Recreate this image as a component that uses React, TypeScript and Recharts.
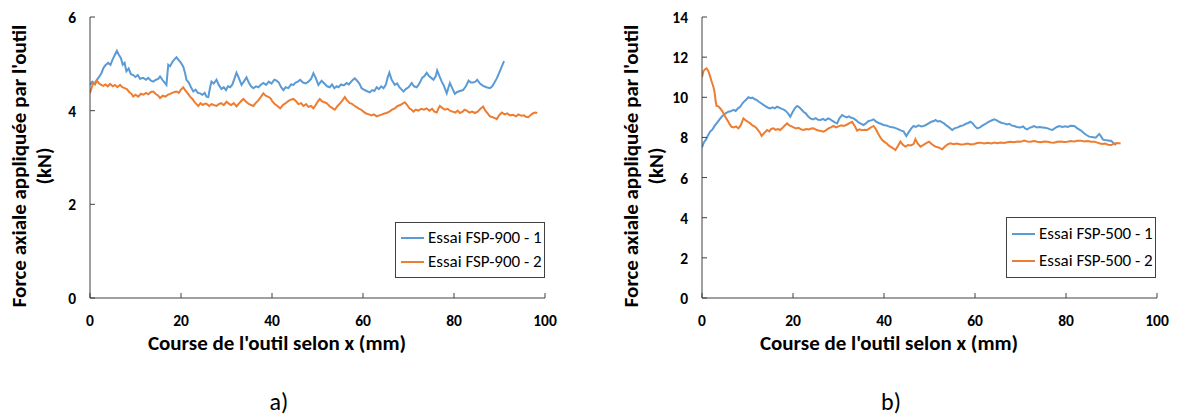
import React from "react";
import { LineChart, Line, XAxis, YAxis } from "recharts";

// Essai FSP-900 (panel a) : [course x (mm), force (kN)]
const fsp900Essai1: [number, number][] = [
  [0, 4.55], [0.5, 4.62], [1, 4.58], [1.5, 4.66], [2, 4.72], [2.5, 4.8], [3, 4.92], [3.5, 4.98],
  [4, 5.02], [4.5, 4.98], [5, 5.1], [5.5, 5.2], [5.9, 5.28], [6.3, 5.2], [6.8, 5.12], [7.2, 4.98],
  [7.6, 5.02], [8, 4.84], [8.5, 4.9], [9, 4.78], [9.5, 4.76], [10, 4.72], [10.5, 4.76], [11, 4.68],
  [11.7, 4.7], [12.3, 4.66], [12.8, 4.7], [13.4, 4.64], [13.9, 4.62], [14.5, 4.66], [15, 4.68],
  [15.4, 4.73], [15.9, 4.66], [16.4, 4.6], [16.8, 4.55], [17.2, 4.98], [17.6, 4.95], [18.1, 5.04],
  [18.6, 5.1], [19, 5.14], [19.5, 5.08], [20, 5.02], [20.5, 4.94], [20.9, 4.8], [21.2, 4.66],
  [21.7, 4.6], [22.2, 4.5], [22.7, 4.41], [23.2, 4.45], [23.7, 4.38], [24.2, 4.37], [24.7, 4.34],
  [25.2, 4.38], [25.6, 4.3], [26, 4.29], [26.4, 4.5], [26.7, 4.62], [27.2, 4.58], [27.8, 4.66],
  [28.3, 4.55], [28.9, 4.46], [29.4, 4.5], [29.9, 4.44], [30.3, 4.52], [30.8, 4.5], [31.3, 4.56],
  [31.8, 4.7], [32.2, 4.81], [32.7, 4.7], [33.3, 4.55], [33.8, 4.62], [34.4, 4.71], [34.9, 4.6],
  [35.4, 4.52], [35.9, 4.48], [36.5, 4.52], [37, 4.5], [37.6, 4.56], [38.1, 4.59], [38.7, 4.55],
  [39.3, 4.62], [39.9, 4.58], [40.5, 4.66], [41, 4.64], [41.5, 4.6], [42, 4.5], [42.5, 4.44],
  [43, 4.5], [43.6, 4.48], [44.2, 4.56], [44.7, 4.55], [45.2, 4.6], [45.7, 4.62], [46.2, 4.66],
  [46.8, 4.6], [47.4, 4.58], [48, 4.62], [48.6, 4.68], [49.1, 4.8], [49.6, 4.7], [50.2, 4.55],
  [50.9, 4.64], [51.5, 4.58], [52.1, 4.52], [52.7, 4.5], [53.2, 4.56], [53.7, 4.48], [54.2, 4.52],
  [54.6, 4.5], [55.2, 4.56], [55.8, 4.54], [56.4, 4.59], [56.9, 4.56], [57.4, 4.62], [57.8, 4.66],
  [58.2, 4.69], [58.7, 4.64], [59.2, 4.58], [59.7, 4.48], [60.2, 4.45], [60.8, 4.42], [61.5, 4.39],
  [62, 4.44], [62.5, 4.42], [63, 4.5], [63.5, 4.46], [64, 4.52], [64.5, 4.48], [65, 4.55],
  [65.4, 4.7], [65.8, 4.81], [66.3, 4.66], [67, 4.55], [67.5, 4.58], [68, 4.5], [68.5, 4.45],
  [68.9, 4.41], [69.4, 4.46], [70, 4.5], [70.4, 4.55], [70.7, 4.59], [71.2, 4.52], [71.8, 4.5],
  [72.2, 4.55], [72.5, 4.6], [73, 4.7], [73.5, 4.74], [74, 4.81], [74.5, 4.74], [75, 4.7],
  [75.5, 4.66], [76, 4.74], [76.3, 4.86], [76.8, 4.74], [77.3, 4.62], [77.7, 4.55], [78.1, 4.45],
  [78.4, 4.37], [78.8, 4.5], [79.1, 4.59], [79.6, 4.48], [80.2, 4.36], [80.7, 4.4], [81.3, 4.42],
  [82, 4.44], [82.6, 4.52], [83.2, 4.64], [83.7, 4.6], [84.2, 4.6], [84.7, 4.62], [85.1, 4.66],
  [85.7, 4.58], [86.4, 4.53], [87.1, 4.5], [87.9, 4.48], [88.4, 4.52], [88.9, 4.6], [89.4, 4.69],
  [89.9, 4.8], [90.4, 4.92], [91, 5.06],
];

const fsp900Essai2: [number, number][] = [
  [0, 4.37], [0.4, 4.5], [0.7, 4.59], [1.1, 4.56], [1.5, 4.64], [2, 4.58], [2.5, 4.55], [2.9, 4.53],
  [3.4, 4.56], [3.9, 4.52], [4.4, 4.57], [5, 4.52], [5.5, 4.55], [6, 4.5], [6.6, 4.55], [7.1, 4.5],
  [7.6, 4.48], [8.1, 4.46], [8.6, 4.4], [9.1, 4.36], [9.5, 4.3], [10, 4.34], [10.6, 4.3], [11.2, 4.36],
  [11.7, 4.34], [12.3, 4.38], [12.8, 4.35], [13.4, 4.4], [13.9, 4.41], [14.4, 4.36], [15, 4.32],
  [15.4, 4.27], [16, 4.32], [16.6, 4.3], [17.1, 4.34], [17.6, 4.36], [18.1, 4.38], [18.6, 4.4],
  [19, 4.41], [19.5, 4.38], [20, 4.45], [20.5, 4.5], [20.9, 4.44], [21.4, 4.38], [22, 4.3],
  [22.5, 4.25], [23, 4.18], [23.4, 4.14], [23.8, 4.1], [24.3, 4.16], [24.8, 4.12], [25.2, 4.15],
  [25.6, 4.15], [26.2, 4.1], [26.7, 4.14], [27.2, 4.12], [27.8, 4.1], [28.3, 4.14], [28.8, 4.16],
  [29.4, 4.12], [30, 4.19], [30.5, 4.15], [31, 4.12], [31.6, 4.16], [32.2, 4.09], [32.7, 4.15],
  [33.2, 4.2], [33.7, 4.25], [34.2, 4.2], [34.8, 4.15], [35.4, 4.12], [35.9, 4.1], [36.4, 4.16],
  [37, 4.22], [37.6, 4.3], [38.1, 4.37], [38.6, 4.32], [39.1, 4.3], [39.6, 4.27], [40.1, 4.2],
  [40.6, 4.14], [41.2, 4.1], [41.8, 4.05], [42.4, 4.12], [43, 4.16], [43.5, 4.2], [44, 4.23],
  [44.7, 4.25], [45.3, 4.2], [45.8, 4.14], [46.4, 4.16], [46.9, 4.1], [47.5, 4.14], [48, 4.08],
  [48.6, 4.1], [49.1, 4.05], [49.6, 4.12], [50.1, 4.2], [50.5, 4.25], [51, 4.2], [51.5, 4.18],
  [52, 4.16], [52.6, 4.1], [53.2, 4.06], [53.8, 4.02], [54.4, 4.1], [55, 4.16], [55.5, 4.22],
  [56, 4.29], [56.5, 4.22], [57.1, 4.16], [57.5, 4.15], [57.9, 4.12], [58.5, 4.08], [59, 4.05],
  [59.6, 4.02], [60.1, 3.98], [60.7, 3.94], [61.3, 3.92], [61.9, 3.9], [62.4, 3.92], [63, 3.88],
  [63.6, 3.9], [64.2, 3.92], [64.7, 3.94], [65.2, 3.95], [65.8, 3.98], [66.4, 4.02], [67, 4.05],
  [67.6, 4.1], [68.2, 4.12], [68.7, 4.15], [69.2, 4.18], [69.7, 4.12], [70.2, 4.05], [70.7, 4.02],
  [71.1, 3.98], [71.6, 4.02], [72.2, 4.0], [72.8, 4.04], [73.4, 4.02], [74, 4.05], [74.6, 4.0],
  [75.2, 4.04], [75.7, 3.98], [76.2, 3.96], [76.6, 4.05], [76.9, 4.1], [77.4, 4.06], [78, 4.02],
  [78.6, 4.04], [79.1, 4.0], [79.7, 3.98], [80.3, 3.96], [80.8, 4.0], [81.3, 3.95], [81.9, 3.98],
  [82.3, 4.02], [82.8, 4.0], [83.4, 3.96], [84, 3.98], [84.6, 3.95], [85.2, 3.98], [85.8, 4.04],
  [86.4, 4.09], [86.9, 4.0], [87.4, 3.94], [87.9, 3.88], [88.5, 3.86], [89, 3.84], [89.4, 3.82],
  [89.9, 3.9], [90.5, 3.96], [91.1, 3.92], [91.7, 3.94], [92.3, 3.9], [93, 3.91], [93.6, 3.88],
  [94.2, 3.92], [94.8, 3.89], [95.4, 3.9], [95.8, 3.87], [96.3, 3.86], [96.8, 3.9], [97.3, 3.94],
  [97.8, 3.96], [98.3, 3.95],
];

// Essai FSP-500 (panel b)
const fsp500Essai1: [number, number][] = [
  [0, 7.5], [0.4, 7.75], [0.9, 7.9], [1.3, 8.1], [1.8, 8.29], [2.3, 8.4], [2.7, 8.55], [3.2, 8.7],
  [3.7, 8.85], [4.2, 9.0], [4.7, 9.12], [5.2, 9.2], [5.8, 9.28], [6.3, 9.3], [6.9, 9.37], [7.4, 9.32],
  [7.9, 9.45], [8.4, 9.53], [8.9, 9.7], [9.4, 9.82], [9.8, 9.9], [10.2, 10.0], [10.7, 9.95],
  [11.1, 9.98], [11.6, 9.9], [12, 9.87], [12.5, 9.78], [13, 9.7], [13.5, 9.62], [14, 9.55],
  [14.5, 9.48], [15, 9.45], [15.5, 9.5], [16, 9.45], [16.5, 9.53], [17, 9.48], [17.5, 9.42],
  [17.9, 9.4], [18.4, 9.32], [18.9, 9.2], [19.4, 9.03], [19.9, 9.25], [20.4, 9.45], [20.9, 9.57],
  [21.4, 9.5], [21.9, 9.38], [22.3, 9.28], [22.8, 9.2], [23.3, 9.05], [23.8, 8.95], [24.4, 8.9],
  [25, 8.96], [25.5, 8.88], [26, 8.87], [26.6, 8.92], [27.1, 8.85], [27.7, 8.95], [28.2, 8.9],
  [28.7, 8.82], [29.2, 8.75], [29.7, 8.7], [30.2, 8.95], [30.8, 9.12], [31.3, 9.05], [31.8, 9.0],
  [32.3, 9.05], [32.8, 8.98], [33.3, 8.95], [33.9, 8.85], [34.4, 8.75], [35, 8.68], [35.5, 8.62],
  [36, 8.7], [36.6, 8.82], [37.2, 8.85], [37.7, 8.9], [38.2, 8.8], [38.8, 8.72], [39.3, 8.68],
  [39.9, 8.62], [40.5, 8.6], [41, 8.55], [41.5, 8.52], [42.1, 8.5], [42.7, 8.45], [43.2, 8.4],
  [43.8, 8.34], [44.3, 8.3], [44.9, 8.07], [45.4, 8.25], [46, 8.45], [46.5, 8.57], [47, 8.52],
  [47.6, 8.6], [48.2, 8.55], [48.7, 8.57], [49.2, 8.62], [49.8, 8.7], [50.4, 8.78], [51, 8.82],
  [51.3, 8.87], [51.8, 8.8], [52.3, 8.82], [52.8, 8.75], [53.2, 8.7], [53.7, 8.6], [54.3, 8.5],
  [55, 8.37], [55.5, 8.45], [56.2, 8.5], [56.8, 8.57], [57.4, 8.6], [58, 8.68], [58.5, 8.72],
  [59, 8.78], [59.5, 8.7], [60, 8.55], [60.5, 8.45], [61.1, 8.5], [61.7, 8.6], [62.3, 8.67],
  [62.8, 8.75], [63.4, 8.82], [64.2, 8.9], [64.8, 8.85], [65.3, 8.78], [65.9, 8.72], [66.4, 8.7],
  [67, 8.65], [67.5, 8.68], [68, 8.6], [68.6, 8.57], [69.2, 8.52], [70, 8.5], [70.6, 8.55],
  [71, 8.45], [71.5, 8.4], [72, 8.48], [72.5, 8.52], [73, 8.57], [73.6, 8.5], [74.2, 8.52],
  [74.8, 8.5], [75.4, 8.48], [76, 8.45], [76.5, 8.4], [77, 8.37], [77.5, 8.45], [78, 8.52],
  [78.5, 8.57], [79.2, 8.52], [79.8, 8.55], [80.4, 8.52], [81, 8.58], [81.8, 8.57], [82.5, 8.45],
  [83.3, 8.34], [83.9, 8.22], [84.5, 8.12], [85.1, 8.04], [85.7, 8.02], [86.2, 8.0], [86.6, 8.0],
  [87, 8.1], [87.3, 8.17], [87.7, 8.05], [88.1, 7.9], [88.4, 7.87], [89, 7.86], [89.5, 7.84],
  [89.9, 7.84], [90.4, 7.72], [91, 7.62],
];

const fsp500Essai2: [number, number][] = [
  [0, 11.0], [0.3, 11.3], [0.7, 11.4], [1.0, 11.44], [1.4, 11.3], [1.8, 11.03], [2.1, 10.8],
  [2.5, 10.53], [2.8, 10.2], [3.0, 9.8], [3.2, 9.57], [3.6, 9.55], [4.0, 9.45], [4.5, 9.3],
  [5.1, 9.03], [5.6, 8.85], [6.1, 8.65], [6.5, 8.53], [7, 8.5], [7.5, 8.55], [8, 8.45], [8.5, 8.6],
  [9.1, 8.95], [9.6, 8.85], [10.1, 8.78], [10.6, 8.7], [11.1, 8.6], [11.7, 8.53], [12.2, 8.4],
  [12.7, 8.25], [13.1, 8.07], [13.6, 8.2], [14.3, 8.37], [14.8, 8.3], [15.2, 8.42], [15.7, 8.45],
  [16.2, 8.38], [16.7, 8.42], [17.2, 8.37], [17.8, 8.5], [18.2, 8.6], [18.7, 8.7], [19.2, 8.6],
  [19.7, 8.55], [20.1, 8.5], [20.7, 8.45], [21.2, 8.48], [21.8, 8.4], [22.3, 8.37], [22.9, 8.42],
  [23.5, 8.4], [24, 8.44], [24.5, 8.45], [25.1, 8.38], [25.6, 8.35], [26.2, 8.32], [26.7, 8.29],
  [27.2, 8.35], [27.8, 8.45], [28.3, 8.5], [28.9, 8.57], [29.5, 8.5], [30, 8.55], [30.6, 8.6],
  [31.1, 8.57], [31.7, 8.62], [32.3, 8.7], [33, 8.78], [33.5, 8.6], [34.1, 8.34], [34.6, 8.4],
  [35.2, 8.36], [35.8, 8.38], [36.3, 8.37], [36.8, 8.45], [37.3, 8.52], [37.7, 8.57], [38.2, 8.42],
  [38.7, 8.2], [39.2, 8.0], [39.6, 7.87], [40.1, 7.78], [40.6, 7.7], [41, 7.6], [41.4, 7.54],
  [42, 7.46], [42.5, 7.37], [43, 7.55], [43.6, 7.79], [44.1, 7.65], [44.7, 7.54], [45.3, 7.62],
  [45.9, 7.6], [46.5, 7.67], [46.9, 7.91], [47.4, 7.7], [48, 7.54], [48.6, 7.62], [49.2, 7.7],
  [49.9, 7.79], [50.6, 7.65], [51.3, 7.54], [52, 7.5], [52.8, 7.41], [53.4, 7.55], [54, 7.65],
  [54.6, 7.71], [55.3, 7.66], [56, 7.7], [56.8, 7.65], [57.6, 7.66], [58.4, 7.7], [59.1, 7.65],
  [59.8, 7.67], [60.5, 7.72], [61.2, 7.74], [62, 7.7], [62.8, 7.73], [63.6, 7.7], [64.3, 7.74],
  [64.9, 7.71], [65.6, 7.75], [66.4, 7.72], [67.1, 7.76], [67.8, 7.79], [68.6, 7.76], [69.3, 7.8],
  [70, 7.78], [70.8, 7.84], [71.5, 7.8], [72.2, 7.78], [73, 7.82], [73.7, 7.79], [74.5, 7.76],
  [75.2, 7.8], [76, 7.78], [76.7, 7.75], [77.4, 7.74], [78.1, 7.78], [78.9, 7.8], [79.6, 7.77],
  [80.3, 7.79], [81, 7.82], [81.8, 7.8], [82.5, 7.83], [83.3, 7.84], [84, 7.8], [84.8, 7.82],
  [85.5, 7.78], [86.2, 7.79], [86.9, 7.74], [87.5, 7.7], [88, 7.67], [88.6, 7.7], [89.2, 7.64],
  [89.9, 7.62], [90.5, 7.68], [91.1, 7.72], [91.7, 7.71], [92, 7.7],
];

const xTicks = [0, 20, 40, 60, 80, 100];
const yTicksA = [0, 2, 4, 6];
const yTicksB = [0, 2, 4, 6, 8, 10, 12, 14];

const FONT = "Carlito, Calibri, Lato, 'Open Sans', sans-serif";
const AXIS = "#404040";
const BLUE = "#5B9BD5";
const ORANGE = "#ED7D31";

const toPoints = (arr: [number, number][]) => arr.map(([x, y]) => ({ x, y }));

function XTick(props: any) {
  const { x, y, payload } = props;
  return (
    <g>
      <line x1={x} x2={x} y1={y} y2={y - 5} stroke={AXIS} strokeWidth={1} />
      <text x={x} y={y + 28} textAnchor="middle" fontFamily={FONT} fontWeight={700} fontSize={15.5} fill="#000">
        {payload.value}
      </text>
    </g>
  );
}

function YTick(props: any) {
  const { x, y, payload } = props;
  return (
    <g>
      <line x1={x} x2={x + 5} y1={y} y2={y} stroke={AXIS} strokeWidth={1} />
      <text x={x - 14} y={y + 6} textAnchor="end" fontFamily={FONT} fontWeight={700} fontSize={15.5} fill="#000">
        {payload.value}
      </text>
    </g>
  );
}

type PanelProps = {
  left: number;
  yMax: number;
  yTicks: number[];
  series: { name: string; color: string; data: [number, number][] }[];
  legendBox: { left: number; top: number; width: number; height: number };
  tag: string;
};

function Panel({ left, yMax, yTicks, series, legendBox, tag }: PanelProps) {
  return (
    <div style={{ position: "absolute", left, top: 0, width: 600, height: 419, fontFamily: FONT }}>
      <LineChart width={600} height={360} margin={{ top: 17, right: 55, bottom: 32, left: 60 }}>
        <XAxis
          type="number"
          dataKey="x"
          domain={[0, 100]}
          ticks={xTicks}
          allowDataOverflow
          height={30}
          tickSize={0}
          tickMargin={0}
          tickLine={false}
          tick={<XTick />}
          axisLine={{ stroke: AXIS, strokeWidth: 1 }}
        />
        <YAxis
          type="number"
          dataKey="y"
          domain={[0, yMax]}
          ticks={yTicks}
          width={30}
          tickSize={0}
          tickMargin={0}
          tickLine={false}
          tick={<YTick />}
          axisLine={{ stroke: AXIS, strokeWidth: 1 }}
        />
        {series.map((s) => (
          <Line
            key={s.name}
            data={toPoints(s.data)}
            dataKey="y"
            name={s.name}
            type="linear"
            stroke={s.color}
            strokeWidth={2}
            dot={false}
            isAnimationActive={false}
          />
        ))}
      </LineChart>

      {/* legend */}
      <div
        style={{
          position: "absolute",
          left: legendBox.left,
          top: legendBox.top,
          width: legendBox.width,
          height: legendBox.height,
          boxSizing: "border-box",
          border: `1px solid ${AXIS}`,
          background: "#fff",
          display: "flex",
          flexDirection: "column",
          justifyContent: "space-evenly",
          paddingLeft: 5,
        }}
      >
        {series.map((s) => (
          <div key={s.name} style={{ display: "flex", alignItems: "center", fontSize: 17, color: "#000", lineHeight: "20px", whiteSpace: "nowrap" }}>
            <span style={{ display: "inline-block", width: 23, height: 2, background: s.color, marginRight: 4 }} />
            {s.name}
          </div>
        ))}
      </div>

      {/* y axis title */}
      <div
        style={{
          position: "absolute",
          left: 32,
          top: 166,
          width: 360,
          transform: "translate(-50%, -50%) rotate(-90deg)",
          textAlign: "center",
          fontWeight: 700,
          fontSize: 21,
          lineHeight: "25px",
          color: "#000",
          whiteSpace: "nowrap",
        }}
      >
        Force axiale appliquée par l'outil
        <br />
        (kN)
      </div>

      {/* x axis title */}
      <div
        style={{
          position: "absolute",
          left: 277,
          top: 334,
          transform: "translateX(-50%)",
          fontWeight: 700,
          fontSize: 21,
          lineHeight: "18px",
          color: "#000",
          whiteSpace: "nowrap",
        }}
      >
        Course de l'outil selon x (mm)
      </div>

      <div
        style={{
          position: "absolute",
          left: 279,
          top: 388,
          transform: "translateX(-50%)",
          fontSize: 24,
          lineHeight: "28px",
          color: "#000",
        }}
      >
        {tag}
      </div>
    </div>
  );
}

export default function App() {
  return (
    <div style={{ position: "absolute", left: 0, top: 0, width: 1177, height: 419, background: "#fff", overflow: "hidden" }}>
      <Panel
        left={0}
        yMax={6}
        yTicks={yTicksA}
        series={[
          { name: "Essai FSP-900 - 1", color: BLUE, data: fsp900Essai1 },
          { name: "Essai FSP-900 - 2", color: ORANGE, data: fsp900Essai2 },
        ]}
        legendBox={{ left: 395, top: 222, width: 150, height: 56 }}
        tag="a)"
      />
      <Panel
        left={612}
        yMax={14}
        yTicks={yTicksB}
        series={[
          { name: "Essai FSP-500 - 1", color: BLUE, data: fsp500Essai1 },
          { name: "Essai FSP-500 - 2", color: ORANGE, data: fsp500Essai2 },
        ]}
        legendBox={{ left: 394, top: 217, width: 150, height: 61 }}
        tag="b)"
      />
    </div>
  );
}
